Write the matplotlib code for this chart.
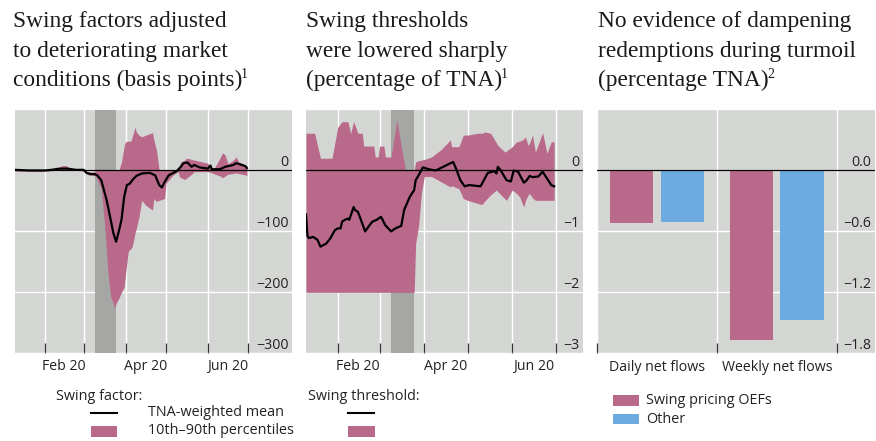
import matplotlib
matplotlib.use("Agg")
import matplotlib.pyplot as plt
from matplotlib.lines import Line2D
from matplotlib.patches import Rectangle
from matplotlib.text import Annotation
import pandas as pd

# ---------------- data ----------------
p1_band_dates = ["2020-01-10","2020-02-01","2020-02-10","2020-02-14","2020-02-17","2020-02-20","2020-03-01","2020-03-04",
                 "2020-03-08","2020-03-10","2020-03-14","2020-03-17","2020-03-19","2020-03-21","2020-03-24","2020-03-25",
                 "2020-03-27","2020-03-29","2020-03-31","2020-04-01","2020-04-03","2020-04-05","2020-04-06","2020-04-08",
                 "2020-04-09","2020-04-11","2020-04-13","2020-04-16","2020-04-21","2020-04-22","2020-04-24","2020-04-26",
                 "2020-04-30","2020-05-01","2020-05-06","2020-05-10","2020-05-11","2020-05-12","2020-05-15","2020-05-16",
                 "2020-05-19","2020-05-20","2020-05-22","2020-06-01","2020-06-03","2020-06-05","2020-06-10","2020-06-12",
                 "2020-06-14","2020-06-16","2020-06-20","2020-06-22","2020-06-24","2020-06-30"]
p1_band_lo = [-1,-1,0,0,0,1,-1,-7,-8,-10,-30,-103,-169,-207,-226,-218,-210,-200,-191,-170,-133,-128,-125,-103,
              -95,-76,-49,-57,-65,-46,-51,-49,-46,-21,-8,-2,-10,-12,-15,-13,-8,-6,-2,-2,-3,-5,-9,-12,-9,-6,-5,-4,-5,-8]
p1_band_hi = [2,1,3,8,8,3,2,-2,-3,0,0,0,0,0,0,0,0,14,40,47,48,48,55,71,63,58,55,58,62,50,33,0,0,0,0,0,8,14,
              17,20,19,18,17,12,4,0,20,29,25,11,17,22,14,7]

p1_mean_dates = ["2020-01-10","2020-01-20","2020-02-01","2020-02-06","2020-02-12","2020-02-18","2020-02-24","2020-03-01",
                 "2020-03-03","2020-03-06","2020-03-09","2020-03-11","2020-03-14","2020-03-18","2020-03-21","2020-03-23",
                 "2020-03-25","2020-03-27","2020-03-29","2020-03-31","2020-04-02","2020-04-04","2020-04-06","2020-04-09",
                 "2020-04-13","2020-04-19","2020-04-23","2020-04-26","2020-04-28","2020-04-30","2020-05-03","2020-05-09",
                 "2020-05-12","2020-05-14","2020-05-17","2020-05-20","2020-05-22","2020-05-26","2020-06-01","2020-06-03",
                 "2020-06-04","2020-06-10","2020-06-14","2020-06-16","2020-06-20","2020-06-22","2020-06-25","2020-06-29",
                 "2020-06-30"]
p1_mean = [1,0,0,1,3,3,1,1,-4,-6,-6,-8,-16,-49,-81,-103,-117,-100,-81,-43,-24,-22,-16,-9,-5,-4,-8,-24,-28,-19,
           -8,-1,6,12,13,6,9,5,3,8,2,2,6,7,9,12,10,7,4]

p2_band_dates = ["2020-01-10","2020-01-16","2020-01-20","2020-01-28","2020-02-01","2020-02-04","2020-02-08","2020-02-10",
                 "2020-02-12","2020-02-15","2020-02-18","2020-02-19","2020-02-26","2020-02-27","2020-02-29","2020-03-01",
                 "2020-03-04","2020-03-05","2020-03-09","2020-03-13","2020-03-16","2020-03-19","2020-03-25","2020-03-26",
                 "2020-03-28","2020-03-30","2020-04-01","2020-04-06","2020-04-13","2020-04-19","2020-04-20","2020-04-25",
                 "2020-04-28","2020-05-01","2020-05-08","2020-05-11","2020-05-13","2020-05-17","2020-05-21","2020-05-22",
                 "2020-05-27","2020-05-28","2020-06-01","2020-06-04","2020-06-06","2020-06-08","2020-06-09","2020-06-10",
                 "2020-06-12","2020-06-13","2020-06-15","2020-06-17","2020-06-22","2020-06-25","2020-06-28","2020-06-30"]
p2_band_lo = [-2.0,-2.0,-2.0,-2.0,-2.0,-2.0,-2.0,-2.0,-2.0,-2.0,-2.0,-2.0,-2.0,-2.0,-2.0,-2.0,-2.0,-2.0,-2.0,-2.0,
              -2.0,-2.0,-2.0,-1.2,-0.92,-0.37,-0.1,-0.1,-0.19,-0.27,-0.25,-0.3,-0.46,-0.49,-0.54,-0.56,-0.5,-0.4,
              -0.32,-0.35,-0.47,-0.49,-0.32,-0.38,-0.43,-0.55,-0.6,-0.5,-0.4,-0.38,-0.45,-0.49,-0.49,-0.49,-0.49,-0.49]
p2_band_hi = [0.61,0.61,0.2,0.2,0.71,0.8,0.8,0.61,0.8,0.61,0.61,0.4,0.4,0.22,0.22,0.4,0.4,0.22,0.22,0.84,0.39,0.0,
              0.0,0.14,0.16,0.17,0.18,0.22,0.35,0.5,0.39,0.39,0.58,0.58,0.61,0.61,0.63,0.61,0.45,0.41,0.3,0.32,
              0.39,0.47,0.48,0.5,0.52,0.55,0.41,0.45,0.58,0.3,0.62,0.28,0.47,0.47]

p2_mean_dates = ["2020-01-10","2020-01-11","2020-01-12","2020-01-15","2020-01-18","2020-01-20","2020-01-24","2020-01-27",
                 "2020-01-30","2020-02-01","2020-02-03","2020-02-04","2020-02-06","2020-02-08","2020-02-09","2020-02-12",
                 "2020-02-13","2020-02-15","2020-02-18","2020-02-20","2020-02-23","2020-02-25","2020-02-28","2020-03-02",
                 "2020-03-05","2020-03-09","2020-03-12","2020-03-16","2020-03-18","2020-03-20","2020-03-22","2020-03-25",
                 "2020-03-26","2020-03-28","2020-03-31","2020-04-04","2020-04-09","2020-04-21","2020-04-23","2020-04-26",
                 "2020-04-29","2020-05-02","2020-05-10","2020-05-15","2020-05-20","2020-05-21","2020-05-22","2020-05-24",
                 "2020-05-28","2020-05-31","2020-06-02","2020-06-05","2020-06-09","2020-06-11","2020-06-13","2020-06-15",
                 "2020-06-19","2020-06-22","2020-06-25","2020-06-28","2020-06-30"]
p2_mean = [-0.72,-1.07,-1.11,-1.09,-1.14,-1.25,-1.2,-1.11,-0.98,-0.95,-0.95,-0.84,-0.81,-0.79,-0.81,-0.6,-0.65,-0.68,
           -0.87,-1.0,-0.9,-0.84,-0.81,-0.76,-0.9,-1.0,-0.95,-0.91,-0.65,-0.54,-0.43,-0.32,-0.16,-0.08,0.05,0.02,0.0,
           0.14,0.03,-0.16,-0.26,-0.24,-0.26,-0.04,-0.01,-0.05,0.06,0.0,-0.16,-0.18,0.0,-0.02,-0.2,-0.16,-0.09,-0.11,
           -0.1,-0.02,-0.13,-0.24,-0.26]

turmoil = ["2020-03-09", "2020-03-25"]

flow_categories = ["Daily net flows", "Weekly net flows"]
flow_swing = [-0.52, -1.67]
flow_other = [-0.51, -1.47]

p1_ticks = [-300, -200, -100, 0, 100]
p1_ticklabels = ["\u2212300", "\u2212200", "\u2212100", "0", ""]
p2_ticks = [-3, -2, -1, 0, 1]
p2_ticklabels = ["\u22123", "\u22122", "\u22121", "0", ""]
p3_ticks = [-1.8, -1.2, -0.6, 0.0, 0.6]
p3_ticklabels = ["\u22121.8", "\u22121.2", "\u22120.6", "0.0", ""]

month_starts = ["2020-02-01", "2020-03-01", "2020-04-01", "2020-05-01", "2020-06-01", "2020-07-01"]
month_label_pos = ["2020-02-15", "2020-04-16", "2020-06-16"]
month_labels = ["Feb 20", "Apr 20", "Jun 20"]

titles = [
    ["Swing factors adjusted", "to deteriorating market", "conditions (basis points)"],
    ["Swing thresholds", "were lowered sharply", "(percentage of TNA)"],
    ["No evidence of dampening", "redemptions during turmoil", "(percentage TNA)"],
]
title_notes = ["1", "1", "2"]

# ---------------- style ----------------
PINK = "#B9698A"
BLUE = "#6CAAE0"
BG = "#D4D6D3"
SHADE = "#A6A7A5"
SANS = ["Open Sans", "DejaVu Sans"]
SERIF = ["Liberation Serif", "DejaVu Serif"]

plt.rcParams["font.family"] = SANS
plt.rcParams["font.size"] = 10

W, H = 876, 441
fig = plt.figure(figsize=(W / 100, H / 100), dpi=100)


def box(x0, y0, x1, y1):
    return [x0 / W, 1 - y1 / H, (x1 - x0) / W, (y1 - y0) / H]


ax1 = fig.add_axes(box(15, 109.5, 292, 353.3))
ax2 = fig.add_axes(box(306, 109.5, 583, 353.3))
ax3 = fig.add_axes(box(597.3, 109.5, 875, 353.3))


def base_style(ax, yt, ylab, ylim):
    ax.set_facecolor(BG)
    for s in ax.spines.values():
        s.set_visible(False)
    ax.set_axisbelow(True)
    ax.set_ylim(*ylim)
    ax.yaxis.tick_right()
    ax.set_yticks(yt)
    ax.set_yticklabels(ylab)
    ax.tick_params(axis="y", length=0, pad=-2.5, labelsize=10.2, colors="#222222")
    for lab in ax.get_yticklabels():
        lab.set_horizontalalignment("right")
        lab.set_verticalalignment("bottom")
    ax.grid(True, which="major", color="white", lw=1.0)
    ax.axhline(0, color="black", lw=0.9, zorder=3)


def time_style(ax, xlim):
    ax.set_xlim(pd.Timestamp(xlim[0]), pd.Timestamp(xlim[1]))
    ax.set_xticks(pd.to_datetime(month_starts))
    ax.set_xticklabels([""] * len(month_starts))
    ax.set_xticks(pd.to_datetime(month_label_pos), minor=True)
    ax.set_xticklabels(month_labels, minor=True)
    ax.tick_params(axis="x", which="major", direction="in", length=7, width=0.9, color="#333333")
    ax.tick_params(axis="x", which="minor", length=0, pad=4, labelsize=10.2, colors="#222222")
    ax.axvspan(pd.Timestamp(turmoil[0]), pd.Timestamp(turmoil[1]), color=SHADE, lw=0, zorder=1)


# Panel 1
base_style(ax1, p1_ticks, p1_ticklabels, (-300, 100))
time_style(ax1, ("2020-01-10", "2020-08-02 12:00"))
ax1.fill_between(pd.to_datetime(p1_band_dates), p1_band_lo, p1_band_hi, color=PINK, lw=0, zorder=2)
ax1.plot(pd.to_datetime(p1_mean_dates), p1_mean, color="black", lw=1.6, zorder=4)

# Panel 2
base_style(ax2, p2_ticks, p2_ticklabels, (-3, 1))
time_style(ax2, ("2020-01-10", "2020-07-20"))
ax2.fill_between(pd.to_datetime(p2_band_dates), p2_band_lo, p2_band_hi, color=PINK, lw=0, zorder=2)
ax2.plot(pd.to_datetime(p2_mean_dates), p2_mean, color="black", lw=1.6, zorder=4)

# Panel 3
base_style(ax3, p3_ticks, p3_ticklabels, (-1.8, 0.6))
idx = list(range(len(flow_categories)))
bw, off = 0.365, 0.213
ax3.bar([i - off for i in idx], flow_swing, width=bw, color=PINK, zorder=2)
ax3.bar([i + off for i in idx], flow_other, width=bw, color=BLUE, zorder=2)
ax3.set_xlim(-0.5, 1.82)
ax3.set_xticks([-0.5, 0.5, 1.5])
ax3.set_xticklabels(["", "", ""])
ax3.set_xticks(idx, minor=True)
ax3.set_xticklabels(flow_categories, minor=True)
ax3.tick_params(axis="x", which="major", direction="in", length=7, width=0.9, color="#333333")
ax3.tick_params(axis="x", which="minor", length=0, pad=5, labelsize=10.2, colors="#222222")

# Titles (with footnote superscripts)
for x0, lines, note in zip([13, 306, 598], titles, title_notes):
    for k, line in enumerate(lines):
        t = fig.text(x0 / W, 1 - (27.3 + 29.2 * k) / H, line, family=SERIF, fontsize=16.8,
                     va="baseline", ha="left", color="#1a1a1a")
        if k == len(lines) - 1:
            fig.add_artist(Annotation(note, xy=(1, 1), xycoords=t, xytext=(-1.0, 0.8),
                                      textcoords="offset points", family=SERIF, fontsize=10,
                                      va="top", ha="left", color="#1a1a1a"))


def ftxt(x, y, s, **kw):
    fig.text(x / W, 1 - y / H, s, va="center", ha="left", fontsize=10.4, color="#222222", **kw)


def fline(x0, x1, y):
    fig.add_artist(Line2D([x0 / W, x1 / W], [1 - y / H, 1 - y / H], color="black", lw=1.5,
                          transform=fig.transFigure))


def fpatch(x0, y0, x1, y1, c):
    fig.add_artist(Rectangle((x0 / W, 1 - y1 / H), (x1 - x0) / W, (y1 - y0) / H, color=c, lw=0,
                             transform=fig.transFigure))


# Legend panel 1
ftxt(56, 396, "Swing factor:")
fline(90.7, 116.7, 413.3)
ftxt(148.3, 413, "TNA-weighted mean")
fpatch(90.7, 426, 117.3, 436.7, PINK)
ftxt(148.3, 431, "10th\u201390th percentiles")
# Legend panel 2
ftxt(308, 396, "Swing threshold:")
fline(348, 374, 413.3)
fpatch(348, 426, 374.6, 436.7, PINK)
# Legend panel 3
fpatch(612.7, 395, 639.3, 405.7, PINK)
ftxt(646, 400.3, "Swing pricing OEFs")
fpatch(612.7, 414.3, 639.3, 424.3, BLUE)
ftxt(646, 419.3, "Other")

fig.savefig("out.png", dpi=100)
